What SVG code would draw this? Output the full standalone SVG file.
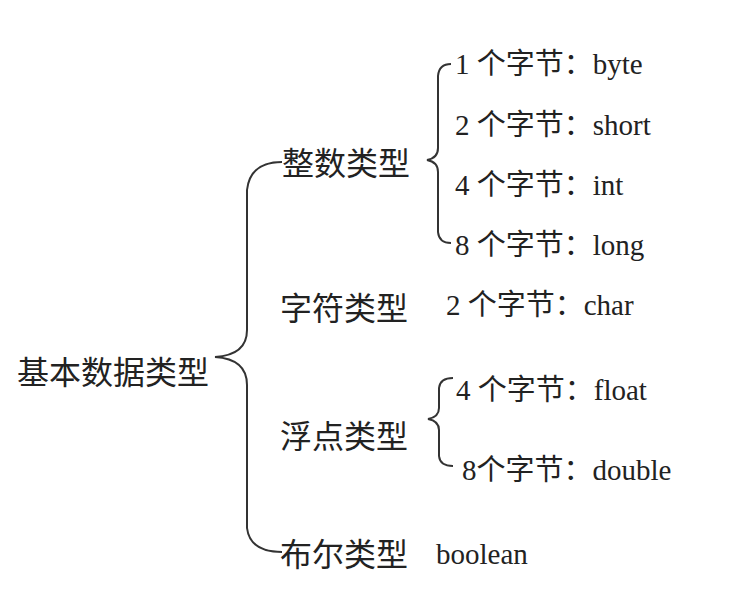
<svg xmlns="http://www.w3.org/2000/svg" width="754" height="602" viewBox="0 0 754 602">
<style>
.m{font-family:"Noto Sans CJK SC",sans-serif;font-size:32px;fill:#222}
.r{font-family:"Liberation Serif","Noto Sans CJK SC",serif;font-size:29px;fill:#222}
.b{fill:none;stroke:#333;stroke-width:2}
</style>
<rect width="754" height="602" fill="#fff"/>
<g id="root"><text class="m" x="17" y="384">基本数据类型</text></g>
<g id="int"><text class="m" x="282" y="175">整数类型</text></g>
<g id="char"><text class="m" x="280" y="320">字符类型</text></g>
<g id="float"><text class="m" x="280" y="448">浮点类型</text></g>
<g id="bool"><text class="m" x="280" y="566">布尔类型</text><text class="r" x="436" y="564">boolean</text></g>
<g id="byte"><text class="r" x="455" y="74">1 个字节：byte</text></g>
<g id="short"><text class="r" x="455" y="135">2 个字节：short</text></g>
<g id="i4"><text class="r" x="455" y="195">4 个字节：int</text></g>
<g id="long"><text class="r" x="455" y="255">8 个字节：long</text></g>
<g id="c2"><text class="r" x="446" y="315">2 个字节：char</text></g>
<g id="f4"><text class="r" x="456" y="400">4 个字节：float</text></g>
<g id="d8"><text class="r" x="462" y="480"> 8个字节：double</text></g>
<g id="connectors">
<path class="b" d="M282,162 Q250,162 247,190 L247,330 Q247,355 215,357 Q247,359 247,385 L247,528 Q250,552 282,552"/>
<path class="b" d="M451,64 Q439,64 438,76 L438,148 Q438,158 427,160 Q438,162 438,172 L438,232 Q439,243 451,243"/>
<path class="b" d="M453,378 Q440,378 439,388 L439,408 Q439,417 428,419 Q439,421 439,430 L439,456 Q440,466 453,466"/>
</g>
</svg>
